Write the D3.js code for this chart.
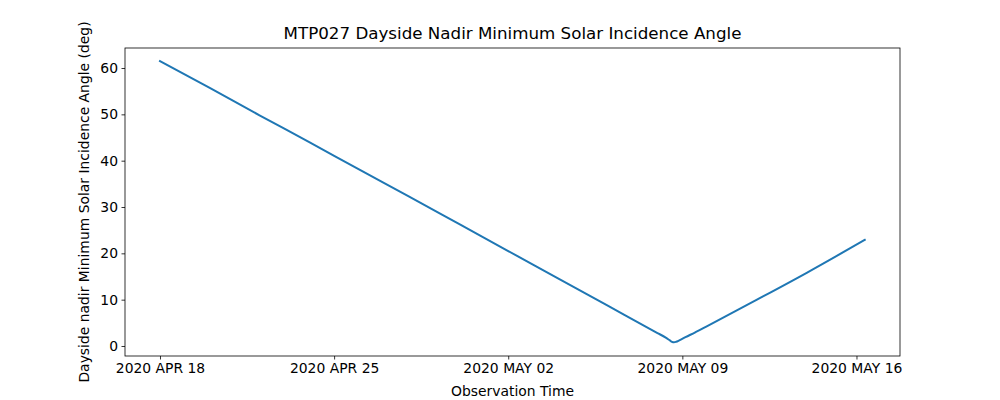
<!DOCTYPE html>
<html>
<head>
<meta charset="utf-8">
<script src="https://d3js.org/d3.v7.min.js"></script>
<style>
  body { margin: 0; background: #fff; }
  text { font-family: "DejaVu Sans", sans-serif; }
</style>
</head>
<body>
<div id="chart"></div>
<script>
// observation times (UTC) and min solar incidence angle (deg)
var obsTimes = [
  "2020-04-18T00:00", "2020-04-20T00:00", "2020-04-22T00:00", "2020-04-24T00:00",
  "2020-04-26T00:00", "2020-04-28T00:00", "2020-04-30T00:00", "2020-05-02T00:00",
  "2020-05-04T00:00", "2020-05-06T00:00", "2020-05-08T00:00", "2020-05-08T08:00",
  "2020-05-08T12:00", "2020-05-08T14:00", "2020-05-08T16:00", "2020-05-08T18:00",
  "2020-05-08T21:00", "2020-05-09T03:00", "2020-05-09T12:00", "2020-05-10T00:00",
  "2020-05-12T00:00", "2020-05-14T00:00", "2020-05-16T08:00"
];
var incidence = [
  61.5, 55.7, 49.8, 44.0,
  38.1, 32.3, 26.4, 20.5,
  14.6, 8.7, 2.8, 1.8,
  1.2, 0.9, 0.8, 0.9,
  1.2, 1.9, 2.9, 4.3,
  10.0, 15.8, 22.9
];
var xTicks = ["2020-04-18", "2020-04-25", "2020-05-02", "2020-05-09", "2020-05-16"];
var yTicks = [0, 10, 20, 30, 40, 50, 60];

var svgWidth = 1000;
var svgHeight = 400;
var margin = { top: 48, right: 100, bottom: 44, left: 125 };
var width = svgWidth - margin.left - margin.right;
var height = svgHeight - margin.top - margin.bottom;

var parseT = d3.utcParse("%Y-%m-%dT%H:%M");
var parseD = d3.utcParse("%Y-%m-%d");
var data = obsTimes.map((t, i) => ({ t: parseT(t), v: incidence[i] }));

var svg = d3.select("#chart").append("svg")
  .attr("width", svgWidth)
  .attr("height", svgHeight);

var chartGroup = svg.append("g")
  .attr("transform", `translate(${margin.left}, ${margin.top})`);

var day = 86400000;
var t0 = parseD("2020-04-18").getTime();
var xScale = d3.scaleUtc()
  .domain([new Date(t0 - 1.407 * day), new Date(t0 + 29.75 * day)])
  .range([0, width]);

var yScale = d3.scaleLinear()
  .domain([-2.16, 64.32])
  .range([height, 0]);

var fmt = d3.utcFormat("%Y %b %d");
var bottomAxis = d3.axisBottom(xScale)
  .tickValues(xTicks.map(parseD))
  .tickFormat(d => fmt(d).toUpperCase())
  .tickSize(3.5).tickPadding(3.5);
var leftAxis = d3.axisLeft(yScale)
  .tickValues(yTicks)
  .tickSize(3.5).tickPadding(3.5);

var xg = chartGroup.append("g")
  .attr("transform", `translate(0, ${height})`)
  .call(bottomAxis);
var yg = chartGroup.append("g").call(leftAxis);

[xg, yg].forEach(g => {
  g.select(".domain").remove();
  g.selectAll("line").attr("stroke", "#000").attr("stroke-width", 0.8);
  g.selectAll("text").attr("font-size", 13.9).attr("fill", "#000")
    .style("font-family", "DejaVu Sans");
});

chartGroup.append("path")
  .datum(data)
  .attr("fill", "none")
  .attr("stroke", "#1f77b4")
  .attr("stroke-width", 2)
  .attr("stroke-linejoin", "round")
  .attr("stroke-linecap", "square")
  .attr("d", d3.line().x(d => xScale(d.t)).y(d => yScale(d.v)).curve(d3.curveMonotoneX));

chartGroup.append("rect")
  .attr("width", width)
  .attr("height", height)
  .attr("fill", "none")
  .attr("stroke", "#000")
  .attr("stroke-width", 0.8);

chartGroup.append("text")
  .attr("x", width / 2)
  .attr("y", -9)
  .attr("text-anchor", "middle")
  .attr("font-size", 16.7)
  .text("MTP027 Dayside Nadir Minimum Solar Incidence Angle");

chartGroup.append("text")
  .attr("transform", `translate(${-36}, ${height / 2}) rotate(-90)`)
  .attr("text-anchor", "middle")
  .attr("font-size", 13.9)
  .text("Dayside nadir Minimum Solar Incidence Angle (deg)");

chartGroup.append("text")
  .attr("x", width / 2)
  .attr("y", height + 40)
  .attr("text-anchor", "middle")
  .attr("font-size", 13.9)
  .text("Observation Time");
</script>
</body>
</html>
